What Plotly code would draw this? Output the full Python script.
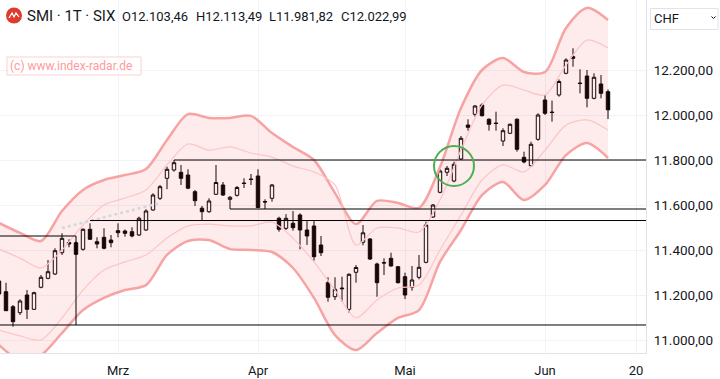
import plotly.graph_objects as go

# ---------------- data ----------------
dates = [
    "2024-02-07", "2024-02-08", "2024-02-09", "2024-02-12", "2024-02-13", "2024-02-14", "2024-02-15", "2024-02-16",
    "2024-02-19", "2024-02-20", "2024-02-21", "2024-02-22", "2024-02-23", "2024-02-26", "2024-02-27", "2024-02-28",
    "2024-02-29", "2024-03-01", "2024-03-04", "2024-03-05", "2024-03-06", "2024-03-07", "2024-03-08", "2024-03-11",
    "2024-03-12", "2024-03-13", "2024-03-14", "2024-03-15", "2024-03-18", "2024-03-19", "2024-03-20", "2024-03-21",
    "2024-03-22", "2024-03-25", "2024-03-26", "2024-03-27", "2024-03-28", "2024-04-02", "2024-04-03", "2024-04-04",
    "2024-04-05", "2024-04-08", "2024-04-09", "2024-04-10", "2024-04-11", "2024-04-12", "2024-04-15", "2024-04-16",
    "2024-04-17", "2024-04-18", "2024-04-19", "2024-04-22", "2024-04-23", "2024-04-24", "2024-04-25", "2024-04-26",
    "2024-04-29", "2024-04-30", "2024-05-02", "2024-05-03", "2024-05-06", "2024-05-07", "2024-05-08", "2024-05-10",
    "2024-05-13", "2024-05-14", "2024-05-15", "2024-05-16", "2024-05-17", "2024-05-21", "2024-05-22", "2024-05-23",
    "2024-05-24", "2024-05-27", "2024-05-28", "2024-05-29", "2024-05-30", "2024-05-31", "2024-06-03", "2024-06-04",
    "2024-06-05", "2024-06-06", "2024-06-07", "2024-06-10", "2024-06-11", "2024-06-12", "2024-06-13", "2024-06-14",
]
opens = [
    11262.2, 11214.7, 11148.0, 11121.3, 11200.0, 11136.4, 11234.3, 11274.2,
    11293.3, 11388.0, 11433.3, 11432.4, 11403.1, 11492.0, 11436.9, 11456.4,
    11444.4, 11485.8, 11484.4, 11481.3, 11466.7, 11488.9, 11577.8, 11629.8,
    11718.7, 11755.6, 11745.3, 11733.3, 11659.1, 11585.8, 11570.2, 11647.6,
    11688.9, 11625.3, 11643.1, 11697.8, 11715.6, 11728.9, 11615.6, 11629.8,
    11540.7, 11496.4, 11518.7, 11555.6, 11488.9, 11506.7, 11422.2, 11254.7,
    11192.4, 11231.1, 11136.4, 11300.9, 11434.2, 11448.9, 11337.8, 11344.4,
    11363.1, 11325.8, 11281.3, 11234.2, 11278.7, 11345.3, 11546.7, 11656.4,
    11745.3, 11706.7, 11804.4, 11955.6, 12003.1, 12044.4, 11980.9, 11964.4,
    11884.4, 11918.7, 11980.9, 11812.0, 11774.7, 11892.0, 12066.7, 12013.3,
    12088.9, 12185.3, 12259.1, 12142.2, 12173.3, 12074.2, 12137.8, 12103.46,
]
highs = [
    11271.1, 11254.7, 11155.6, 11180.9, 11222.2, 11214.7, 11288.9, 11355.6,
    11407.6, 11474.2, 11447.6, 11436.9, 11496.4, 11518.7, 11456.4, 11496.4,
    11466.7, 11518.7, 11491.1, 11500.9, 11548.2, 11580.9, 11652.0, 11688.9,
    11770.2, 11800.0, 11777.8, 11758.7, 11666.7, 11595.6, 11629.8, 11777.8,
    11702.2, 11640.0, 11684.4, 11718.7, 11737.8, 11758.7, 11625.3, 11693.3,
    11548.0, 11559.1, 11573.3, 11563.1, 11528.9, 11533.3, 11462.2, 11278.7,
    11278.7, 11281.3, 11296.4, 11333.3, 11511.1, 11453.3, 11343.6, 11363.1,
    11388.0, 11328.9, 11299.1, 11328.9, 11377.8, 11525.8, 11604.4, 11758.7,
    11773.3, 11792.4, 11906.7, 11980.9, 12044.4, 12052.0, 11985.3, 12014.7,
    11940.9, 11962.2, 11985.3, 11836.9, 11881.3, 12007.6, 12088.9, 12064.4,
    12157.8, 12252.0, 12296.4, 12203.1, 12200.0, 12185.3, 12177.8, 12113.49,
]
lows = [
    11195.6, 11128.9, 11059.1, 11111.1, 11093.3, 11133.3, 11229.8, 11269.8,
    11288.9, 11377.8, 11412.0, 11377.8, 11396.9, 11444.4, 11407.6, 11403.1,
    11412.0, 11456.4, 11459.1, 11456.4, 11462.2, 11484.4, 11574.7, 11622.2,
    11670.2, 11748.0, 11688.9, 11670.2, 11595.6, 11533.3, 11565.3, 11644.4,
    11640.0, 11582.2, 11637.3, 11675.6, 11688.9, 11585.8, 11582.2, 11614.7,
    11481.3, 11488.9, 11485.8, 11403.1, 11422.2, 11352.4, 11373.3, 11170.2,
    11177.8, 11170.2, 11121.3, 11254.7, 11420.9, 11355.6, 11192.4, 11288.9,
    11325.8, 11251.1, 11182.2, 11219.1, 11269.8, 11340.9, 11542.2, 11652.0,
    11728.9, 11700.9, 11800.0, 11930.2, 11992.7, 11992.7, 11930.2, 11930.2,
    11862.2, 11915.6, 11836.9, 11785.3, 11770.2, 11885.8, 12000.0, 11970.2,
    12081.3, 12180.9, 12214.7, 12096.4, 12034.2, 12069.8, 12074.2, 11981.82,
]
closes = [
    11204.4, 11130.2, 11081.3, 11173.3, 11136.4, 11210.2, 11278.7, 11303.6,
    11396.9, 11451.9, 11426.7, 11380.9, 11492.0, 11447.6, 11426.7, 11407.6,
    11432.4, 11476.9, 11474.2, 11462.2, 11541.1, 11573.3, 11644.4, 11681.3,
    11758.7, 11788.0, 11718.7, 11674.7, 11619.1, 11570.2, 11617.8, 11700.0,
    11644.4, 11634.2, 11677.8, 11695.6, 11713.3, 11588.9, 11613.3, 11688.9,
    11492.0, 11540.7, 11499.1, 11488.9, 11462.2, 11370.2, 11388.0, 11189.8,
    11225.3, 11228.0, 11292.0, 11322.2, 11476.4, 11360.0, 11254.7, 11342.2,
    11328.9, 11254.7, 11200.0, 11266.7, 11323.1, 11511.1, 11600.0, 11751.1,
    11763.1, 11780.9, 11896.4, 11945.3, 12040.0, 11997.1, 11958.7, 11962.2,
    11930.2, 11958.7, 11847.6, 11791.1, 11869.8, 12000.0, 12007.6, 12011.1,
    12148.9, 12244.4, 12252.0, 12140.0, 12074.2, 12167.6, 12096.4, 12022.99,
]

future_dates = ["2024-06-17", "2024-06-18", "2024-06-19", "2024-06-20"]
tick_dates = ["2024-03-01", "2024-04-02", "2024-05-02", "2024-06-03", "2024-06-20"]
tick_labels = ["Mrz", "Apr", "Mai", "Jun", "20"]
price_ticks = [11000, 11200, 11400, 11600, 11800, 12000, 12200]
price_tick_labels = ["11.000,00", "11.200,00", "11.400,00", "11.600,00", "11.800,00", "12.000,00", "12.200,00"]

# band values (every third session)
band_dates = dates[::3]
band_outer_upper = [11520, 11476, 11440, 11573, 11667, 11711, 11733, 11760, 11889, 12004,
                    11987, 11987, 11996, 11920, 11858, 11800, 11653, 11515, 11618, 11609,
                    11587, 11769, 12031, 12200, 12253, 12191, 12191, 12387, 12476, 12422]
band_inner_upper = [11404, 11364, 11320, 11400, 11511, 11600, 11631, 11667, 11778, 11871,
                    11844, 11858, 11831, 11813, 11773, 11747, 11689, 11422, 11498, 11498,
                    11480, 11622, 11844, 12044, 12133, 12111, 12089, 12222, 12333, 12298]
band_inner_lower = [11044, 11018, 11000, 11098, 11222, 11311, 11347, 11378, 11453, 11507,
                    11515, 11507, 11507, 11524, 11453, 11347, 11222, 11098, 11178, 11231,
                    11244, 11400, 11555, 11711, 11778, 11747, 11844, 11955, 11978, 11933]
band_outer_lower = [10978, 10911, 10933, 11031, 11133, 11187, 11222, 11244, 11378, 11440,
                    11444, 11404, 11400, 11391, 11320, 11187, 11022, 10955, 11031, 11098,
                    11133, 11347, 11489, 11644, 11702, 11622, 11689, 11822, 11875, 11809]

# dotted helper line
dotted_dates = ["2024-02-20", "2024-02-26", "2024-03-04", "2024-03-11"]
dotted_values = [11497.8, 11528.9, 11568.9, 11608.9]

# drawn horizontal levels: value, start date (None = from left edge)
level_values = [11800.0, 11582.2, 11531.0, 11066.7]
level_starts = ["2024-03-13", "2024-03-25", "2024-02-26", None]
box_top_value = 11462.2
box_end_date = "2024-02-22"

circle_date = "2024-05-14"
circle_value = 11773.3

header_title = "SMI · 1T · SIX"
header_ohlc = ["O12.103,46", "H12.113,49", "L11.981,82", "C12.022,99"]
watermark = "(c) www.index-radar.de"
currency = "CHF"

# ---------------- layout geometry ----------------
W, H = 720, 379
PL, PR, PT, PB = 0, 74, 0, 26
PW, PH = W - PL - PR, H - PT - PB

all_dates = dates + future_dates
pos = {d: k for k, d in enumerate(all_dates)}
xs = [pos[d] for d in dates]
X_MIN, X_MAX = 1 / 7, 647 / 7
Y_MIN, Y_MAX = 10942.2, 12511.1


def px(x, y):
    return x / PW, 1 - y / PH


fig = go.Figure()

band_x = [pos[d] for d in band_dates]
fig.add_trace(go.Scatter(x=band_x, y=band_outer_upper, mode="lines",
                         line=dict(color="#f7a3a3", width=2.5, shape="spline", smoothing=0.8),
                         hoverinfo="skip", showlegend=False))
fig.add_trace(go.Scatter(x=band_x, y=band_outer_lower, mode="lines", fill="tonexty",
                         fillcolor="rgba(242,54,69,0.10)",
                         line=dict(color="#f7a3a3", width=2.5, shape="spline", smoothing=0.8),
                         hoverinfo="skip", showlegend=False))
fig.add_trace(go.Scatter(x=band_x, y=band_inner_upper, mode="lines",
                         line=dict(color="#fbc6c6", width=1.2, shape="spline", smoothing=0.8),
                         hoverinfo="skip", showlegend=False))
fig.add_trace(go.Scatter(x=band_x, y=band_inner_lower, mode="lines",
                         line=dict(color="#fbc6c6", width=1.2, shape="spline", smoothing=0.8),
                         hoverinfo="skip", showlegend=False))
fig.add_trace(go.Scatter(x=[pos[d] for d in dotted_dates], y=dotted_values, mode="lines",
                         line=dict(color="#d3d6dd", width=2.5, dash="dot"),
                         hoverinfo="skip", showlegend=False))

fig.add_trace(go.Candlestick(
    x=xs, open=opens, high=highs, low=lows, close=closes,
    increasing=dict(line=dict(color="#000000", width=1), fillcolor="#ffffff"),
    decreasing=dict(line=dict(color="#000000", width=1), fillcolor="#000000"),
    whiskerwidth=0, hoverinfo="skip", showlegend=False))

shapes = []
for v, s in zip(level_values, level_starts):
    x0 = X_MIN if s is None else pos[s]
    shapes.append(dict(type="line", xref="x", yref="y", x0=x0, x1=X_MAX, y0=v, y1=v,
                       line=dict(color="#000000", width=1)))
shapes.append(dict(type="line", xref="x", yref="y", x0=X_MIN, x1=pos[box_end_date],
                   y0=box_top_value, y1=box_top_value, line=dict(color="#000000", width=1)))
shapes.append(dict(type="line", xref="x", yref="y", x0=pos[box_end_date], x1=pos[box_end_date],
                   y0=box_top_value, y1=level_values[3], line=dict(color="#000000", width=1)))
# green circle
rx, ry = 20 / 7, 20 * (Y_MAX - Y_MIN) / PH
cx = pos[circle_date]
shapes.append(dict(type="circle", xref="x", yref="y", x0=cx - rx, x1=cx + rx,
                   y0=circle_value - ry, y1=circle_value + ry,
                   line=dict(color="#4caf50", width=2)))

# header logo
x0, y0 = px(6, 7.5)
x1, y1 = px(22, 23.5)
shapes.append(dict(type="circle", xref="paper", yref="paper", x0=x0, x1=x1, y0=y1, y1=y0,
                   fillcolor="#dc3b2e", line=dict(width=0)))
pts = [(9, 18), (12, 13), (14, 17), (16, 13), (19, 17)]
path = "M " + " L ".join("{:.5f},{:.5f}".format(*px(a, b)) for a, b in pts)
shapes.append(dict(type="path", xref="paper", yref="paper", path=path,
                   line=dict(color="#ffffff", width=1.2)))

# watermark box
a0, b0 = px(7, 57)
a1, b1 = px(141, 75)
shapes.append(dict(type="rect", xref="paper", yref="paper", x0=a0, x1=a1, y0=b1, y1=b0,
                   fillcolor="rgba(255,255,255,0.6)", line=dict(color="#fbd0d0", width=1)))

# currency box
c0, d0 = px(650.5, 8.5)
c1, d1 = px(718, 29.5)
shapes.append(dict(type="rect", xref="paper", yref="paper", x0=c0, x1=c1, y0=d1, y1=d0,
                   fillcolor="#ffffff", line=dict(color="#e0e3eb", width=1)))
chev = [(711.5, 16.5), (713.5, 18.5), (715.5, 16.5)]
shapes.append(dict(type="path", xref="paper", yref="paper",
                   path="M " + " L ".join("{:.5f},{:.5f}".format(*px(a, b)) for a, b in chev),
                   line=dict(color="#131722", width=1)))

annotations = []
ax, ay = px(25, 16)
annotations.append(dict(x=ax, y=ay, xref="paper", yref="paper", text=header_title, showarrow=False,
                        xanchor="left", yanchor="middle",
                        font=dict(family="Roboto", size=15, color="#131722")))
for txt, xpix in zip(header_ohlc, [120, 194, 267, 339]):
    ax, ay = px(xpix, 16)
    annotations.append(dict(x=ax, y=ay, xref="paper", yref="paper", text=txt, showarrow=False,
                            xanchor="left", yanchor="middle",
                            font=dict(family="Roboto", size=13, color="#131722")))
ax, ay = px(8, 66)
annotations.append(dict(x=ax, y=ay, xref="paper", yref="paper", text=watermark, showarrow=False,
                        xanchor="left", yanchor="middle",
                        font=dict(family="Roboto", size=12, color="#ff9a9a")))
ax, ay = px(652, 19)
annotations.append(dict(x=ax, y=ay, xref="paper", yref="paper", text=currency, showarrow=False,
                        xanchor="left", yanchor="middle",
                        font=dict(family="Roboto", size=13, color="#131722")))

fig.update_layout(
    width=W, height=H,
    margin=dict(l=PL, r=PR, t=PT, b=PB),
    paper_bgcolor="#ffffff", plot_bgcolor="#ffffff",
    showlegend=False,
    shapes=shapes, annotations=annotations,
    xaxis=dict(range=[X_MIN, X_MAX], tickvals=[pos[d] for d in tick_dates], ticktext=tick_labels,
               showgrid=True, gridcolor="#f0f3fa", gridwidth=1, zeroline=False,
               showline=True, linecolor="#e0e3eb", linewidth=1,
               ticks="outside", ticklen=5, tickcolor="rgba(0,0,0,0)",
               tickfont=dict(family="Roboto", size=13, color="#131722"),
               rangeslider=dict(visible=False), fixedrange=True),
    yaxis=dict(range=[Y_MIN, Y_MAX], side="right", tickvals=price_ticks, ticktext=price_tick_labels,
               showgrid=True, gridcolor="#f0f3fa", gridwidth=1, zeroline=False,
               showline=True, linecolor="#e0e3eb", linewidth=1,
               ticks="outside", ticklen=4, tickcolor="rgba(0,0,0,0)",
               tickfont=dict(family="Roboto", size=13.5, color="#131722"), fixedrange=True),
)

fig.write_html("out.html", config={"displayModeBar": False},
               post_script="document.body.style.margin='0';document.body.style.padding='0';"
                           "document.body.style.overflow='hidden';")
